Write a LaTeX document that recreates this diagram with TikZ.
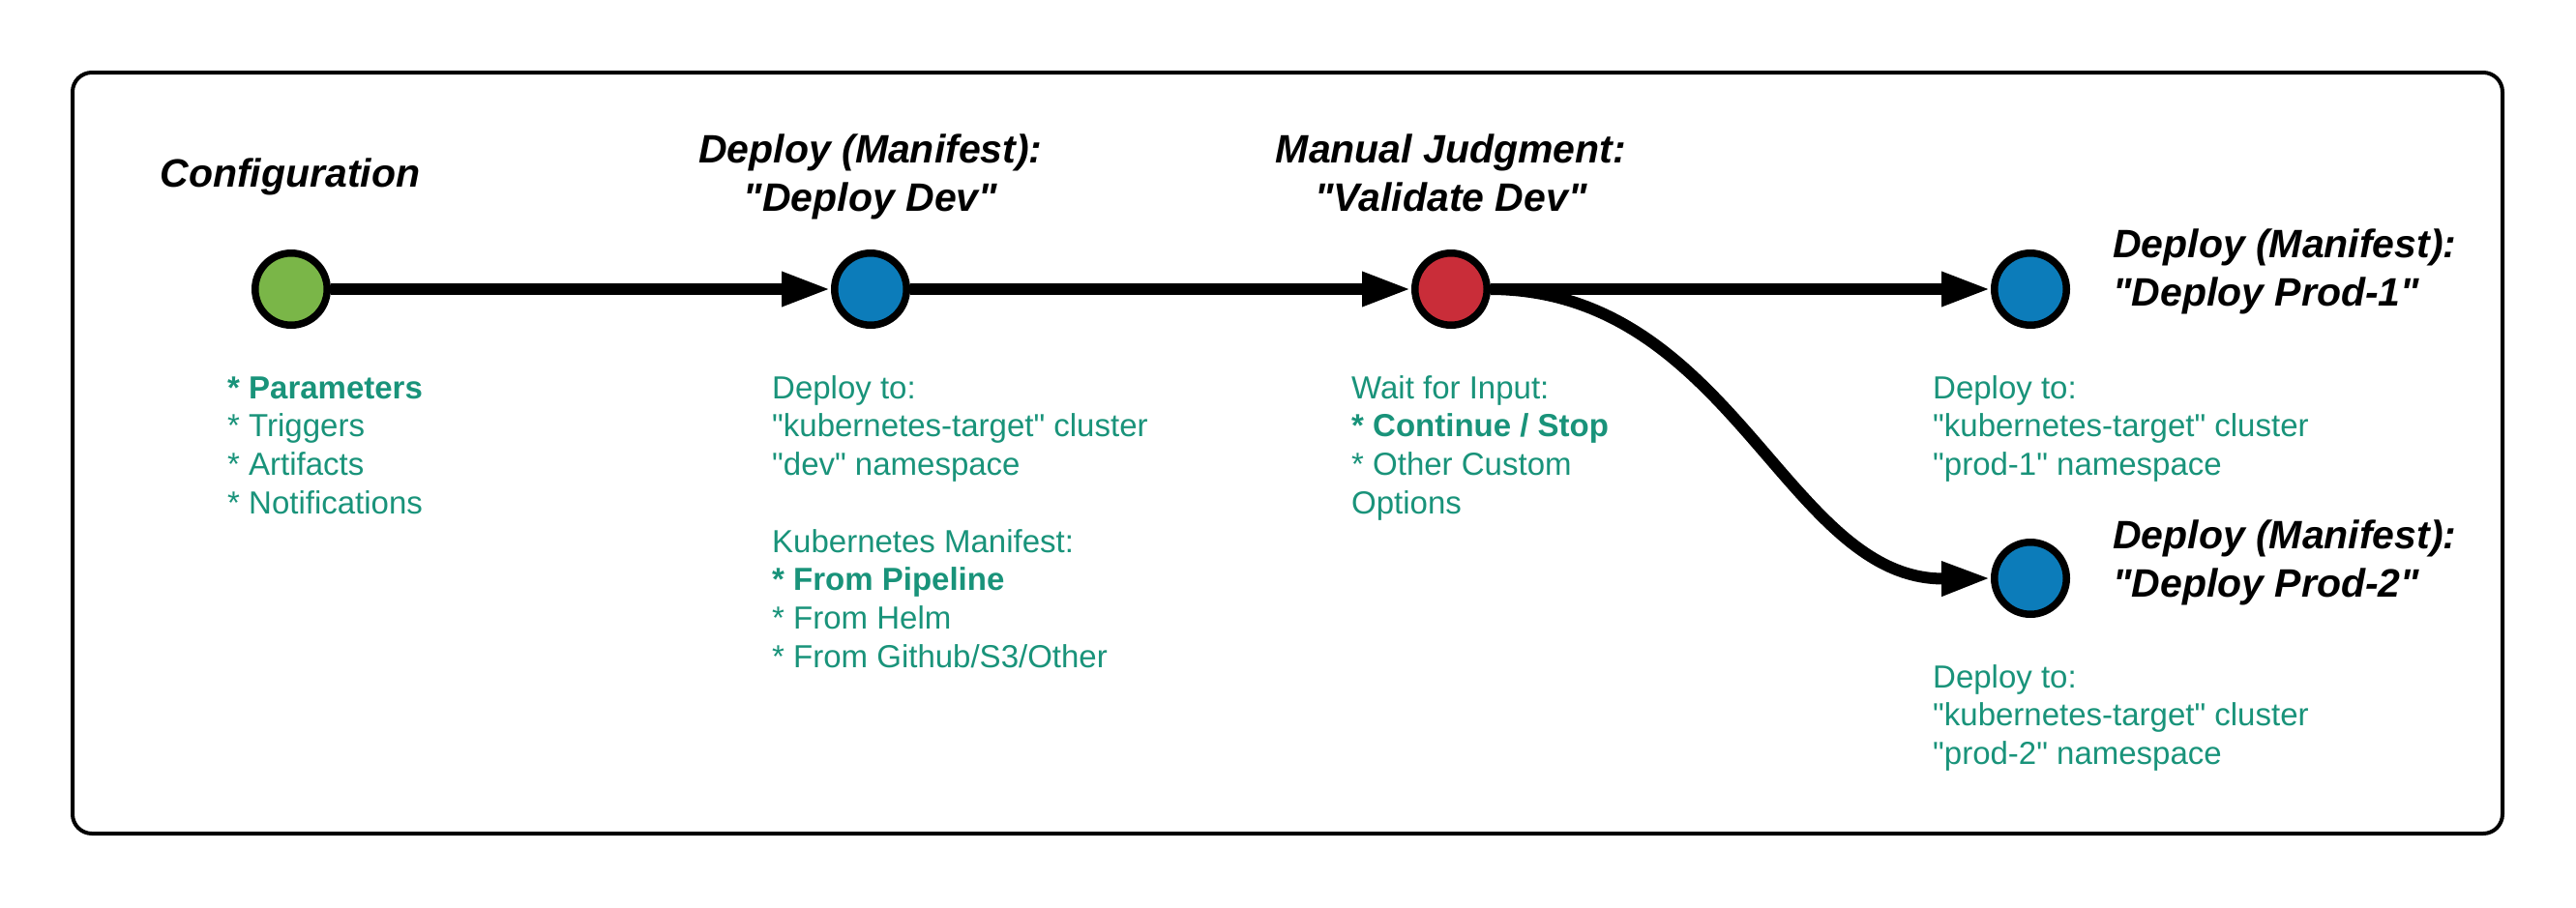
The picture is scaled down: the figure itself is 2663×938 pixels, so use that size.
\documentclass[tikz,border=0pt]{standalone}
\usepackage{fontspec}
\newfontfamily\libsans{Liberation Sans}
\usetikzlibrary{arrows.meta}
\definecolor{cgreen}{HTML}{7AB648}
\definecolor{cblue}{HTML}{0C7CBA}
\definecolor{cred}{HTML}{C92D39}
\definecolor{cteal}{HTML}{19937A}
\newcommand{\ttlstrut}{\rule{0pt}{40pt}}
\newcommand{\lststrut}{\rule{0pt}{30pt}}
\begin{document}
\begin{tikzpicture}[x=1pt,y=-1pt,
  stage/.style={circle,draw=black,line width=7.5pt,minimum size=74.5pt,inner sep=0pt},
  ttl/.style={inner sep=0pt,font=\libsans\fontsize{41}{50}\selectfont\bfseries\itshape},
  lst/.style={inner sep=0pt,align=left,anchor=north west,text=cteal,font=\libsans\fontsize{33}{39.7}\selectfont},
  flow/.style={line width=12pt,-{Triangle[length=51pt,width=33pt]}}]
\useasboundingbox (0,0) rectangle (2663,938);
\draw[line width=4pt,rounded corners=20pt] (75,75) rectangle (2587,862);
% stages
\node[stage,fill=cgreen] (conf) at (301,299) {};
\node[stage,fill=cblue] (dev) at (900,299) {};
\node[stage,fill=cred] (jud) at (1500,299) {};
\node[stage,fill=cblue] (p1) at (2099,299) {};
\node[stage,fill=cblue] (p2) at (2099,598) {};
% titles
\node[ttl,anchor=north] (tconf) at (300,153) {\ttlstrut Configuration};
\node[ttl,anchor=north,align=center] (tdev) at (900,128) {\ttlstrut Deploy (Manifest):\\"Deploy Dev"};
\node[ttl,anchor=north,align=center] (tjud) at (1500,128) {\ttlstrut Manual Judgment:\\"Validate Dev"};
\node[ttl,anchor=north west,align=left] (tp1) at (2184,226) {\ttlstrut Deploy (Manifest):\\"Deploy Prod-1"};
\node[ttl,anchor=north west,align=left] (tp2) at (2184,527) {\ttlstrut Deploy (Manifest):\\"Deploy Prod-2"};
% lists
\node[lst] (lconf) at (235,382) {\lststrut\textbf{* Parameters}\\* Triggers\\* Artifacts\\* Notifications};
\node[lst] (ldev) at (798,382) {\lststrut Deploy to:\\"kubernetes-target" cluster\\"dev" namespace\\[39.7pt]Kubernetes Manifest:\\\textbf{* From Pipeline}\\* From Helm\\* From Github/S3/Other};
\node[lst] (ljud) at (1397,382) {\lststrut Wait for Input:\\\textbf{* Continue / Stop}\\* Other Custom\\Options};
\node[lst] (lp1) at (1998,382) {\lststrut Deploy to:\\"kubernetes-target" cluster\\"prod-1" namespace};
\node[lst] (lp2) at (1998,681) {\lststrut Deploy to:\\"kubernetes-target" cluster\\"prod-2" namespace};
% connectors
\draw[flow] (conf.east) -- (dev.west);
\draw[flow] (dev.east) -- (jud.west);
\draw[flow] (jud.east) -- (p1.west);
\draw[flow] (jud.east) .. controls (1791,300) and (1847,600) .. (p2.west);
\end{tikzpicture}
\end{document}
